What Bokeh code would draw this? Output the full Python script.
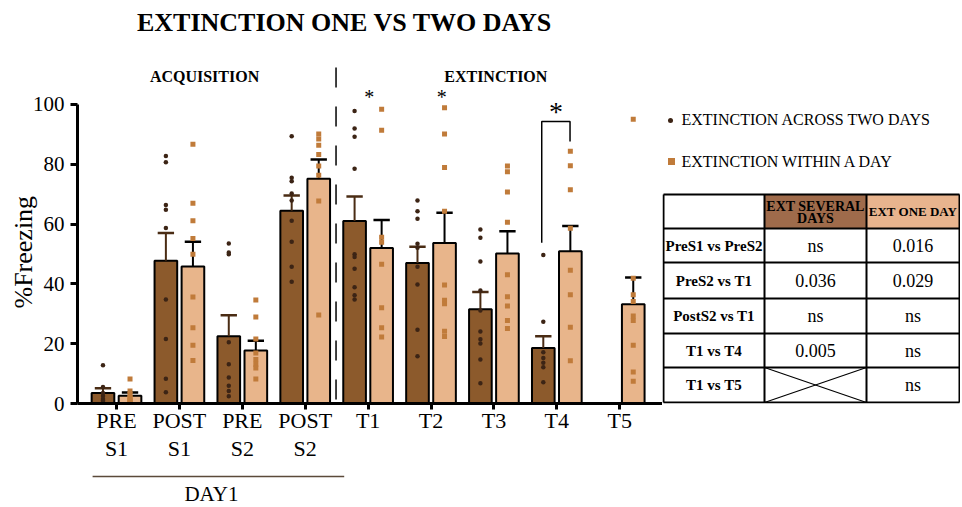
import math
from bokeh.plotting import figure
from bokeh.layouts import row, column
from bokeh.models import Range1d, FixedTicker, Label, Title
from bokeh.core.properties import value
from bokeh.embed import file_html
from bokeh.resources import INLINE

# ---------------- data ----------------
categories = ["PRE\nS1", "POST\nS1", "PRE\nS2", "POST\nS2", "T1", "T2", "T3", "T4", "T5"]

# Extinction across two days (no T5)
two_days_mean = [3.5, 47.7, 22.5, 64.5, 61.0, 47.0, 31.5, 18.6]
two_days_upper = [5.1, 57.0, 29.5, 69.6, 69.2, 52.4, 37.3, 22.5]
two_days_points = [
    [12.8, 5.5, 3.5, 2.5, 1.5, 1.0, 0.5, 0.0],
    [82.8, 80.7, 66.4, 64.8, 58.7, 34.8, 21.6, 8.3, 3.8],
    [53.5, 50.5, 49.9, 20.5, 13.1, 8.7, 5.9, 4.2, 2.4],
    [89.4, 75.5, 74.3, 70.2, 67.9, 61.1, 54.1, 45.7, 40.7],
    [97.8, 92.0, 89.2, 78.5, 49.9, 49.0, 45.1, 38.9, 36.2, 34.8],
    [67.9, 64.3, 61.8, 53.4, 52.1, 45.7, 39.8, 24.7, 15.8],
    [58.2, 55.4, 47.5, 37.8, 31.1, 24.1, 21.5, 20.1, 14.7, 6.8],
    [49.7, 27.3, 17.1, 15.2, 13.6, 12.1, 7.1],
]

# Extinction within a day
one_day_mean = [2.6, 45.8, 17.7, 75.2, 52.0, 53.7, 50.2, 50.9, 33.2]
one_day_upper = [3.7, 54.1, 21.0, 81.6, 61.4, 63.8, 57.6, 59.4, 42.1]
one_day_points = [
    [8.2, 4.2, 3.0, 2.0, 1.0, 0.5, 0.0, 1.5],
    [86.7, 67.0, 61.1, 55.2, 49.9, 35.6, 25.3, 19.5, 14.4],
    [34.6, 28.9, 21.6, 16.9, 14.7, 13.1, 11.9, 8.2],
    [90.1, 88.5, 86.4, 83.3, 79.4, 76.3, 67.7, 29.6],
    [98.4, 91.4, 55.6, 53.9, 46.6, 32.0, 25.3, 22.2],
    [98.9, 90.1, 78.9, 64.3, 39.6, 34.5, 33.4, 24.2, 22.4],
    [79.4, 77.5, 70.7, 60.6, 43.1, 35.7, 32.6, 27.8, 25.1],
    [84.4, 79.5, 71.5, 58.6, 44.6, 36.4, 25.5, 14.3],
    [95.1, 41.9, 36.4, 34.1, 29.3, 27.8, 19.5, 10.5, 7.4],
]

y_ticks = [0, 20, 40, 60, 80, 100]

legend_labels = ["EXTINCTION ACROSS TWO DAYS", "EXTINCTION WITHIN A DAY"]

table_col_headers = ["", "EXT SEVERAL\nDAYS", "EXT ONE DAY"]
table_row_labels = ["PreS1 vs PreS2", "PreS2 vs T1", "PostS2 vs T1", "T1 vs T4", "T1 vs T5"]
table_several_days = ["ns", "0.036", "ns", "0.005", None]
table_one_day = ["0.016", "0.029", "ns", "ns", "ns"]

# ---------------- styles ----------------
SERIF = "Liberation Serif"
DARK_BAR = "#8c5a2c"
LIGHT_BAR = "#e8b58b"
DARK_DOT = "#3c2415"
LIGHT_DOT = "#c07b3a"
DARK_WHISK = "#4a2c14"
OFF = 0.215
BAR_W = 0.36
CAP = 0.13

# ---------------- main chart ----------------
p = figure(width=662, height=464, output_backend="svg", toolbar_location=None,
           x_range=Range1d(-0.62, 8.68), y_range=Range1d(0, 134.78),
           min_border_left=77, min_border_right=0, min_border_top=0, min_border_bottom=61)
p.outline_line_color = None
p.grid.visible = False
p.background_fill_color = None

n_dark = len(two_days_mean)
n_light = len(one_day_mean)
xd = [i - OFF for i in range(n_dark)]
xl = [i + OFF for i in range(n_light)]

p.vbar(x=xd, top=two_days_mean, bottom=0, width=BAR_W, fill_color=DARK_BAR,
       line_color="black", line_width=2)
p.vbar(x=xl, top=one_day_mean, bottom=0, width=BAR_W, fill_color=LIGHT_BAR,
       line_color="black", line_width=2)

# whiskers (upper only)
p.segment(x0=xd, y0=two_days_mean, x1=xd, y1=two_days_upper, line_color=DARK_WHISK, line_width=2)
p.segment(x0=[x - CAP for x in xd], y0=two_days_upper, x1=[x + CAP for x in xd], y1=two_days_upper,
          line_color=DARK_WHISK, line_width=2.5)
p.segment(x0=xl, y0=one_day_mean, x1=xl, y1=one_day_upper, line_color="black", line_width=2)
p.segment(x0=[x - CAP for x in xl], y0=one_day_upper, x1=[x + CAP for x in xl], y1=one_day_upper,
          line_color="black", line_width=2.5)

# individual points
dx, dy = [], []
for i, pts in enumerate(two_days_points):
    dx += [i - OFF] * len(pts)
    dy += pts
lx, ly = [], []
for i, pts in enumerate(one_day_points):
    lx += [i + OFF] * len(pts)
    ly += pts
p.scatter(dx, dy, marker="circle", size=4.5, fill_color=DARK_DOT, line_color=None)
p.scatter(lx, ly, marker="square", size=5, fill_color=LIGHT_DOT, line_color=None)

# axes
p.yaxis.ticker = FixedTicker(ticks=y_ticks)
p.yaxis.bounds = (0, 100)
p.xaxis.ticker = FixedTicker(ticks=list(range(len(categories))))
p.xaxis.major_label_overrides = {i: c for i, c in enumerate(categories)}
for ax in (p.xaxis, p.yaxis):
    ax.axis_line_width = 3
    ax.axis_line_color = "black"
    ax.major_tick_line_width = 3
    ax.major_tick_line_color = "black"
    ax.major_tick_in = 0
    ax.minor_tick_line_color = None
    ax.major_label_text_font = SERIF
    ax.major_label_text_color = "black"
p.yaxis.major_tick_out = 7
p.yaxis.major_label_standoff = 6
p.yaxis.major_label_text_font_size = "21px"
p.xaxis.major_tick_out = 6
p.xaxis.major_label_standoff = -2
p.xaxis.major_label_text_font_size = "22px"
p.xaxis.major_label_text_line_height = 1.15

# y-axis title
p.add_layout(Title(text="%Freezing", align="left", offset=95, text_font=SERIF,
                   text_font_size="26px", text_font_style="normal", text_color="black",
                   standoff=-16), "left")

# separator dashed line between acquisition and extinction
p.segment(x0=[3.49], y0=[112.4], x1=[3.49], y1=[0], line_color="black", line_width=1.5,
          line_dash="20 19")

# significance bracket T1 vs T4 (two days)
p.line(x=[6.76, 6.76, 7.21, 7.21], y=[53.8, 94.3, 94.3, 87.6], line_color="black", line_width=1.5)


def lab(x, y, text, size, bold=False, align="center", baseline="middle"):
    p.add_layout(Label(x=x, y=y, text=text, text_font=SERIF, text_font_size=size,
                       text_font_style="bold" if bold else "normal", text_align=align,
                       text_baseline=baseline, text_color="black"))


lab(3.625, 127.3, "EXTINCTION ONE VS TWO DAYS", "26px", bold=True)
lab(1.40, 109.4, "ACQUISITION", "16px", bold=True)
lab(6.03, 109.4, "EXTINCTION", "16px", bold=True)
lab(4.02, 102.6, "*", "20px", baseline="alphabetic")
lab(5.17, 102.6, "*", "20px", baseline="alphabetic")
lab(6.985, 97.5, "*", "28px", baseline="alphabetic")

# ---------------- DAY1 strip (shares the x scale) ----------------
d = figure(width=662, height=42, output_backend="svg", toolbar_location=None,
           x_range=p.x_range, y_range=Range1d(42, 0),
           x_axis_location=None, y_axis_location=None,
           min_border_left=77, min_border_right=0, min_border_top=0, min_border_bottom=0)
d.outline_line_color = None
d.grid.visible = False
d.background_fill_color = None
d.segment(x0=[-0.38], y0=[12], x1=[3.62], y1=[12], line_color="#5b4a3a", line_width=1.5)
d.text(x=[1.51], y=[29], text=["DAY1"], text_font=value(SERIF), text_font_size="21px",
       text_align="center", text_baseline="middle", text_color="black")

# ---------------- legend + table ----------------
# (frame of this plot is aligned with the chart frame: 403 px tall)
t = figure(width=298, height=464, output_backend="svg", toolbar_location=None,
           x_range=Range1d(0, 298), y_range=Range1d(403, 0),
           x_axis_location=None, y_axis_location=None,
           min_border_left=0, min_border_right=0, min_border_top=0, min_border_bottom=0)
t.outline_line_color = None
t.grid.visible = False
t.background_fill_color = None

# legend
t.scatter([8], [120], marker="circle", size=5, fill_color=DARK_DOT, line_color=None)
t.scatter([9], [161], marker="square", size=7, fill_color=LIGHT_DOT, line_color=None)
t.text(x=[19, 19], y=[119, 161], text=legend_labels, text_font=value(SERIF), text_font_size="16px",
       text_baseline="middle", text_align="left", text_color="black")

col_edges = [1, 102, 204, 297]
row_edges = [194, 228, 262, 298, 333, 367, 402]

# header fills
t.quad(left=[col_edges[1], col_edges[2]], right=[col_edges[2], col_edges[3]],
       top=[row_edges[0]] * 2, bottom=[row_edges[1]] * 2,
       fill_color=["#9f6b4b", "#e8b48e"], line_color=None)
# grid lines
t.segment(x0=[col_edges[0]] * len(row_edges), y0=row_edges, x1=[col_edges[-1]] * len(row_edges), y1=row_edges,
          line_color="black", line_width=2)
t.segment(x0=col_edges, y0=[row_edges[0]] * len(col_edges), x1=col_edges, y1=[row_edges[-1]] * len(col_edges),
          line_color="black", line_width=2)

col_c = [(col_edges[i] + col_edges[i + 1]) / 2 for i in range(3)]
row_c = [(row_edges[i] + row_edges[i + 1]) / 2 for i in range(len(row_edges) - 1)]

# header text
t.text(x=[col_c[1]], y=[row_c[0] + 1], text=[table_col_headers[1]], text_font=value(SERIF),
       text_font_size="14px", text_font_style="bold", text_align="center", text_baseline="middle",
       text_line_height=0.85, text_color="black")
t.text(x=[col_c[2]], y=[row_c[0]], text=[table_col_headers[2]], text_font=value(SERIF),
       text_font_size="13px", text_font_style="bold", text_align="center", text_baseline="middle",
       text_color="black")

# row labels
t.text(x=[col_c[0]] * len(table_row_labels), y=row_c[1:], text=table_row_labels, text_font=value(SERIF),
       text_font_size="15px", text_font_style="bold", text_align="center", text_baseline="middle",
       text_color="black")
# values
sv_y = [row_c[1 + i] for i, v in enumerate(table_several_days) if v is not None]
sv_t = [v for v in table_several_days if v is not None]
t.text(x=[col_c[1]] * len(sv_t), y=sv_y, text=sv_t, text_font=value(SERIF), text_font_size="18px",
       text_align="center", text_baseline="middle", text_color="black")
t.text(x=[col_c[2]] * len(table_one_day), y=row_c[1:], text=table_one_day, text_font=value(SERIF),
       text_font_size="18px", text_align="center", text_baseline="middle", text_color="black")
# cross for missing cell
for i, v in enumerate(table_several_days):
    if v is None:
        t.segment(x0=[col_edges[1], col_edges[1]], y0=[row_edges[i + 1], row_edges[i + 2]],
                  x1=[col_edges[2], col_edges[2]], y1=[row_edges[i + 2], row_edges[i + 1]],
                  line_color="black", line_width=1.2)

layout = column(row(p, t, spacing=0), d, spacing=0)
open("out.html", "w").write(file_html(layout, INLINE))
